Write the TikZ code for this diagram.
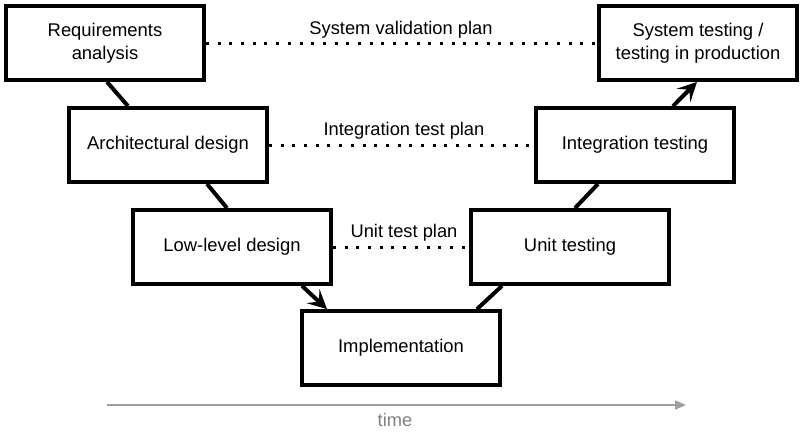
\documentclass[tikz,border=0pt]{standalone}
\usepackage{fontspec}
\setmainfont{Liberation Sans}
\usetikzlibrary{arrows.meta}
\begin{document}
\begin{tikzpicture}[x=1pt,y=-1pt,
  vbox/.style={draw=black,line width=3.8pt,minimum width=198pt,minimum height=74pt,
    align=center,inner sep=0pt,font=\fontsize{18.4}{22.5}\selectfont},
  conn/.style={line width=4pt},
  arr/.style={conn,-{Stealth[length=19pt,width=19pt,inset=8pt]}},
  plan/.style={line width=3pt,dash pattern=on 3pt off 8.7pt},
  lbl/.style={font=\fontsize{18.3}{22}\selectfont,inner sep=0pt}]
\useasboundingbox (0,0) rectangle (803,432);
\node[vbox] (req) at (105,43) {Requirements\\analysis};
\node[vbox] (arch) at (168,145) {Architectural design};
\node[vbox] (low) at (232,247) {Low-level design};
\node[vbox] (impl) at (401,348) {Implementation};
\node[vbox] (unit) at (570,247) {Unit testing};
\node[vbox] (integ) at (635,145) {Integration testing};
\node[vbox] (sys) at (698,43) {System testing /\\testing in production};
\draw[conn] ([xshift=2pt]req.south) -- ([xshift=-40pt]arch.north);
\draw[conn] ([xshift=39pt]arch.south) -- ([xshift=-5pt]low.north);
\draw[arr] ([xshift=70pt]low.south) -- ([xshift=-74pt]impl.north);
\draw[conn] ([xshift=76pt]impl.north) -- ([xshift=-68pt]unit.south);
\draw[conn] ([xshift=5pt]unit.north) -- ([xshift=-37pt]integ.south);
\draw[arr] ([xshift=38pt]integ.north) -- ([xshift=-1pt]sys.south);
\draw[plan] (req.east) -- (sys.west);
\draw[plan] (arch.east) -- (integ.west);
\draw[plan] (low.east) -- (unit.west);
\node[lbl] (l1) at (401,30) {System validation plan};
\node[lbl] (l2) at (404,131) {Integration test plan};
\node[lbl] (l3) at (404,233) {Unit test plan};
\coordinate (t0) at (107,405);
\coordinate (t1) at (686,405);
\draw[line width=2pt,color=black!38,-{Triangle[length=11pt,width=9pt]}] (t0) -- (t1);
\node[lbl,text=black!50] (time) at (395,420) {time};
\end{tikzpicture}
\end{document}
